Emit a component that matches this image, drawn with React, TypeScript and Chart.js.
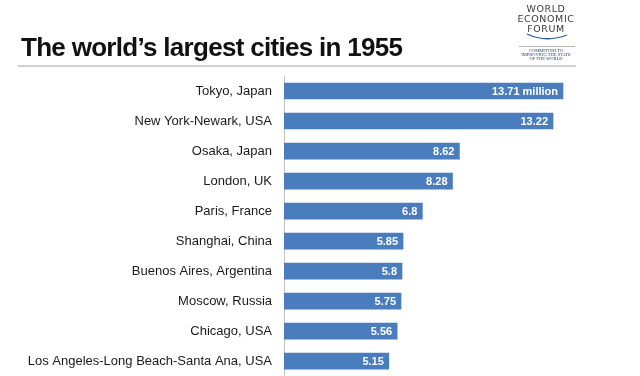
import React, { useEffect, useRef } from "react";
import { Chart, registerables } from "chart.js";

Chart.register(...registerables);

const cities = [
  "Tokyo, Japan",
  "New York-Newark, USA",
  "Osaka, Japan",
  "London, UK",
  "Paris, France",
  "Shanghai, China",
  "Buenos Aires, Argentina",
  "Moscow, Russia",
  "Chicago, USA",
  "Los Angeles-Long Beach-Santa Ana, USA",
];
const population = [13.71, 13.22, 8.62, 8.28, 6.8, 5.85, 5.8, 5.75, 5.56, 5.15];
const valueLabels = ["13.71 million", "13.22", "8.62", "8.28", "6.8", "5.85", "5.8", "5.75", "5.56", "5.15"];

const title = "The world’s largest cities in 1955";

const valueLabelPlugin = {
  id: "valueLabels",
  afterDatasetsDraw(chart: any) {
    const ctx = chart.ctx;
    const meta = chart.getDatasetMeta(0);
    ctx.save();
    ctx.fillStyle = "#ffffff";
    ctx.font = "bold 11px 'Liberation Sans', Arial, sans-serif";
    ctx.textAlign = "right";
    ctx.textBaseline = "middle";
    meta.data.forEach((bar: any, i: number) => {
      ctx.fillText(valueLabels[i], bar.x - 5, bar.y + 0.5);
    });
    ctx.restore();
  },
};

export default function App() {
  const ref = useRef<HTMLCanvasElement | null>(null);
  useEffect(() => {
    if (!ref.current) return;
    const chart = new Chart(ref.current, {
      type: "bar",
      data: {
        labels: cities,
        datasets: [
          {
            data: population,
            backgroundColor: "#4a7dbd",
            borderWidth: 0,
            barThickness: 16,
          },
        ],
      },
      options: {
        indexAxis: "y",
        animation: false,
        responsive: false,
        maintainAspectRatio: false,
        layout: { padding: { top: 76, bottom: 0, left: 0, right: 30.4 } },
        plugins: {
          legend: { display: false },
          tooltip: { enabled: false },
          title: { display: false },
        },
        scales: {
          x: { display: false, min: 0, max: 16 },
          y: {
            afterFit: (scale: any) => {
              scale.width = 284;
            },
            grid: { display: false, drawTicks: false },
            border: { display: true, color: "#c4c4c4", width: 1 },
            ticks: {
              padding: 12,
              color: "#1a1a1a",
              font: { family: "'Liberation Sans', Arial, sans-serif", size: 13 },
            },
          },
        },
      },
      plugins: [valueLabelPlugin],
    });
    return () => chart.destroy();
  }, []);

  const logoLine: React.CSSProperties = {
    position: "absolute",
    width: 80,
    left: 506,
    textAlign: "center",
    fontFamily: "'DejaVu Sans', sans-serif",
    fontSize: 9.5,
    letterSpacing: 0.6,
    color: "#3a3a3a",
    lineHeight: "10px",
  };
  const smallLine: React.CSSProperties = {
    position: "absolute",
    width: 80,
    left: 506,
    textAlign: "center",
    fontFamily: "'Liberation Serif', serif",
    fontSize: 4.5,
    color: "#1f3b70",
    lineHeight: "4px",
    whiteSpace: "nowrap",
  };

  return (
    <div
      style={{
        position: "absolute",
        left: 0,
        top: 0,
        width: 640,
        height: 376,
        background: "#ffffff",
        overflow: "hidden",
      }}
    >
      <canvas ref={ref} width={640} height={396} style={{ position: "absolute", left: 0, top: 0 }} />
      <div
        style={{
          position: "absolute",
          left: 21,
          top: 32,
          fontFamily: "'Liberation Sans', Arial, sans-serif",
          fontWeight: "bold",
          fontSize: 26,
          letterSpacing: -0.7,
          lineHeight: "30px",
          color: "#111111",
          whiteSpace: "nowrap",
        }}
      >
        {title}
      </div>
      <div
        style={{
          position: "absolute",
          left: 18,
          top: 65,
          width: 558,
          height: 2,
          background: "#d0d0d0",
        }}
      />
      <div style={{ ...logoLine, top: 4 }}>WORLD</div>
      <div style={{ ...logoLine, top: 14 }}>ECONOMIC</div>
      <div style={{ ...logoLine, top: 24 }}>FORUM</div>
      <svg style={{ position: "absolute", left: 524, top: 32 }} width={46} height={10}>
        <path d="M3 2 Q 22 11 43 3" stroke="#2c5aa0" strokeWidth={1.3} fill="none" />
      </svg>
      <div style={{ position: "absolute", left: 519, top: 46, width: 56, height: 1, background: "#b8b8b8" }} />
      <div style={{ ...smallLine, top: 49 }}>COMMITTED TO</div>
      <div style={{ ...smallLine, top: 53 }}>IMPROVING THE STATE</div>
      <div style={{ ...smallLine, top: 57 }}>OF THE WORLD</div>
    </div>
  );
}
